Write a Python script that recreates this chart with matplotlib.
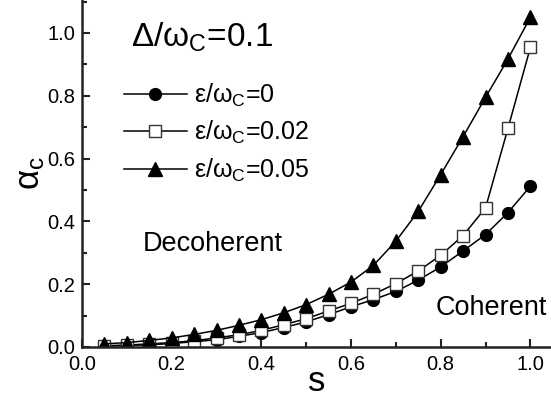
import numpy as np
import matplotlib
matplotlib.use("Agg")
import matplotlib.pyplot as plt
from matplotlib.ticker import MultipleLocator

plt.rcParams['font.family'] = ['Liberation Sans', 'DejaVu Sans']
plt.rcParams['mathtext.fontset'] = 'custom'
plt.rcParams['mathtext.rm'] = 'Liberation Sans'
plt.rcParams['mathtext.it'] = 'Liberation Sans'
plt.rcParams['mathtext.default'] = 'regular'

# coupling strength s
s = [0.05, 0.10, 0.15, 0.20, 0.25, 0.30, 0.35, 0.40, 0.45, 0.50,
     0.55, 0.60, 0.65, 0.70, 0.75, 0.80, 0.85, 0.90, 0.95, 1.00]

# critical alpha for eps/omega_c = 0, 0.02, 0.05
alpha_eps0 = [0.003, 0.005, 0.007, 0.011, 0.017, 0.023, 0.034, 0.046, 0.062, 0.080,
              0.103, 0.128, 0.151, 0.177, 0.213, 0.255, 0.306, 0.358, 0.428, 0.512]
alpha_eps002 = [0.004, 0.006, 0.010, 0.014, 0.020, 0.029, 0.039, 0.053, 0.071, 0.090,
                0.115, 0.139, 0.168, 0.202, 0.242, 0.292, 0.355, 0.443, 0.696, 0.954]
alpha_eps005 = [0.010, 0.014, 0.021, 0.029, 0.040, 0.053, 0.069, 0.087, 0.109, 0.135,
                0.168, 0.207, 0.260, 0.337, 0.432, 0.549, 0.670, 0.795, 0.917, 1.050]

labels = [r'$\varepsilon/\omega_{C}$=0', r'$\varepsilon/\omega_{C}$=0.02',
          r'$\varepsilon/\omega_{C}$=0.05']

fig = plt.figure(figsize=(5.51, 4.01), dpi=100)
ax = fig.add_axes([82/551, 54/401, 469/551, 347/401])

ax.plot(s, alpha_eps0, '-o', color='black', lw=1.1, ms=8.5,
        mfc='black', mec='black', label=labels[0])
ax.plot(s, alpha_eps002, '-s', color='black', lw=1.1, ms=8.5,
        mfc='white', mec='#333333', mew=1.0, label=labels[1])
ax.plot(s, alpha_eps005, '-^', color='black', lw=1.1, ms=10,
        mfc='black', mec='black', label=labels[2])

ax.set_xlim(0, 1.046)
ax.set_ylim(0, 1.105)
ax.xaxis.set_major_locator(MultipleLocator(0.2))
ax.xaxis.set_minor_locator(MultipleLocator(0.1))
ax.yaxis.set_major_locator(MultipleLocator(0.2))
ax.yaxis.set_minor_locator(MultipleLocator(0.1))
ax.xaxis.set_major_formatter(plt.FormatStrFormatter('%.1f'))
ax.yaxis.set_major_formatter(plt.FormatStrFormatter('%.1f'))
ax.tick_params(which='both', direction='in', width=1.5, labelsize=14.5, color='#222222')
ax.tick_params(which='major', length=6)
ax.tick_params(which='minor', length=3.5)
ax.tick_params(axis='x', pad=6)
ax.tick_params(axis='y', pad=5)

for side in ['top', 'right']:
    ax.spines[side].set_visible(False)
for side in ['left', 'bottom']:
    ax.spines[side].set_linewidth(1.8)
    ax.spines[side].set_color('#222222')

ax.set_xlabel('s', fontsize=25, labelpad=-7)
ax.set_ylabel(r'$\alpha_{c}$', fontsize=25, labelpad=0)

ax.text(0.105, 0.94, r'$\Delta/\omega_{C}$=0.1', transform=ax.transAxes,
        fontsize=24, va='top', ha='left')
ax.text(0.13, 0.297, 'Decoherent', transform=ax.transAxes, fontsize=19.5,
        va='center', ha='left')
ax.text(0.755, 0.112, 'Coherent', transform=ax.transAxes, fontsize=19.5,
        va='center', ha='left')

ax.legend(loc='upper left', bbox_to_anchor=(0.09, 0.765), frameon=False,
          fontsize=18, handlelength=2.5, handletextpad=0.3, labelspacing=0.42,
          borderaxespad=0, borderpad=0)

fig.savefig('out.png', dpi=100)
